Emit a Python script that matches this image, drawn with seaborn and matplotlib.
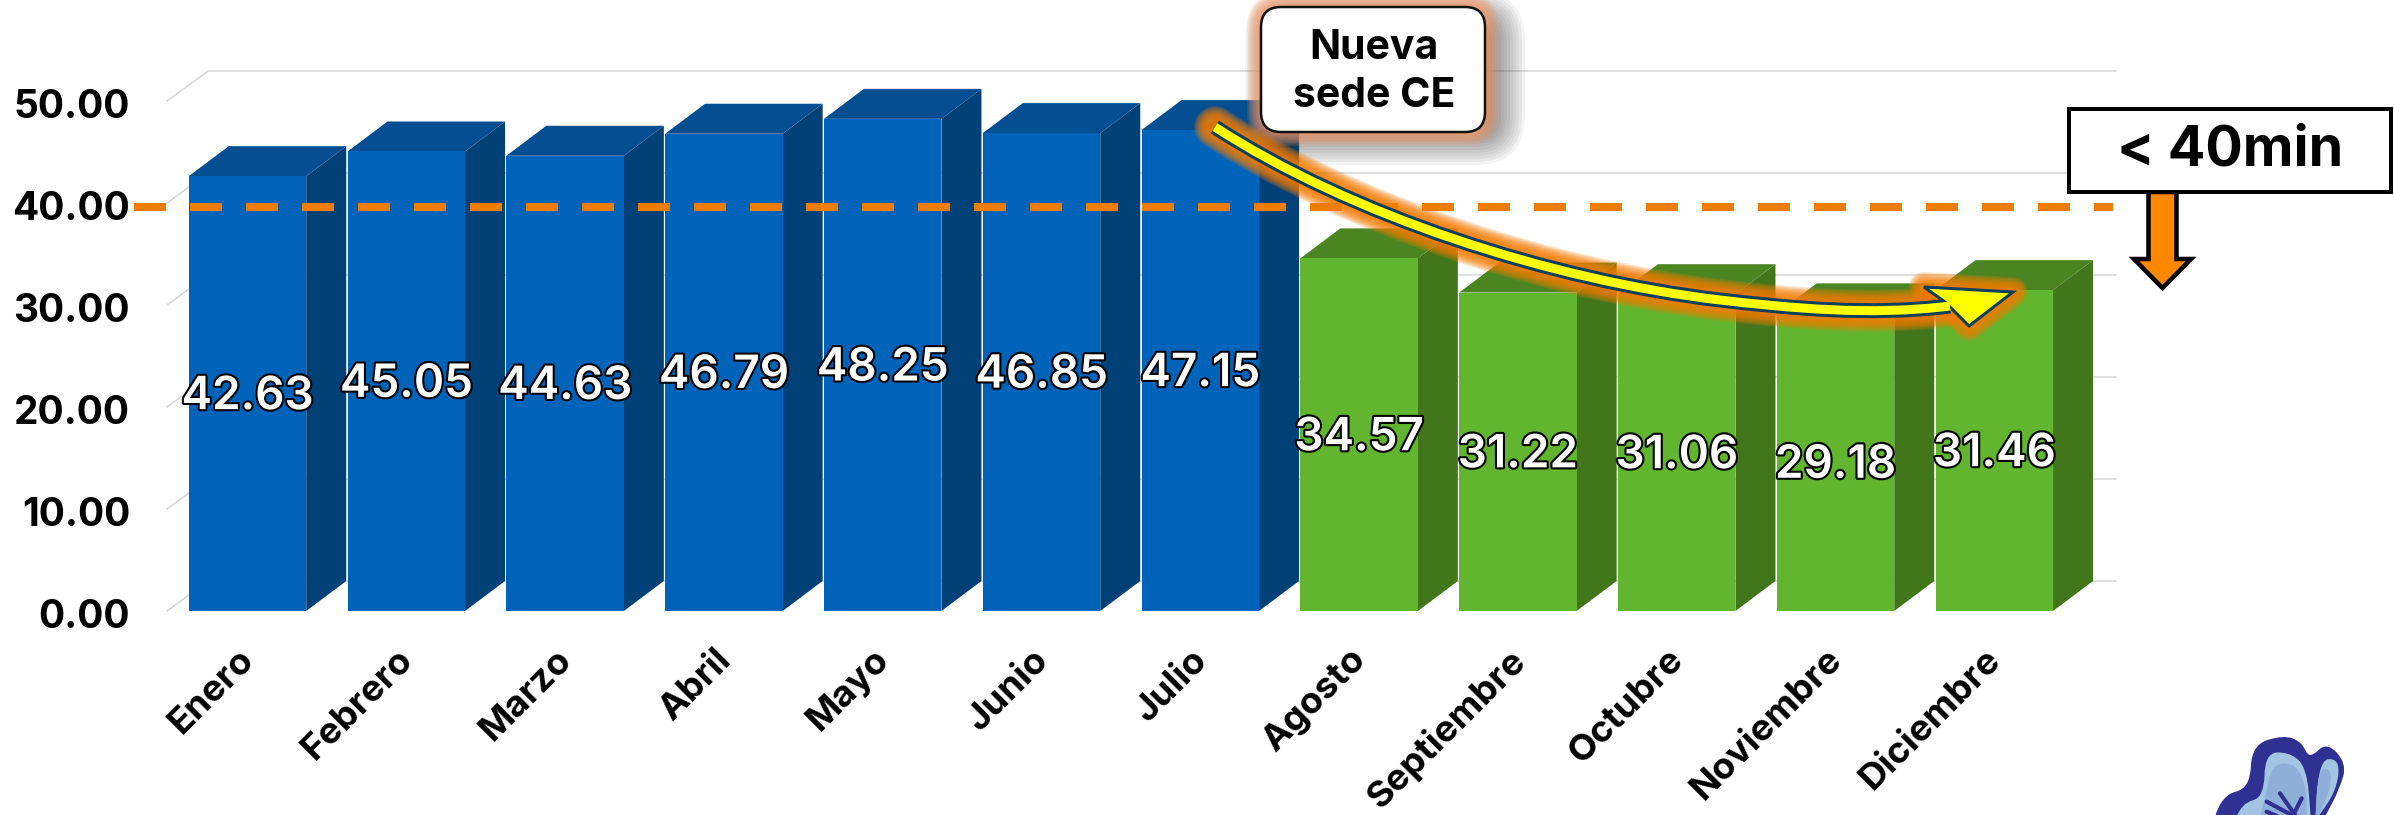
import matplotlib
matplotlib.use("Agg")
import matplotlib.pyplot as plt
import matplotlib.patheffects as pe
import seaborn as sns
from matplotlib.patches import FancyBboxPatch, PathPatch, Polygon, Rectangle
from matplotlib.path import Path
from matplotlib.transforms import Affine2D, ScaledTranslation

# ---------------------------
# Data
# ---------------------------
meses = ["Enero", "Febrero", "Marzo", "Abril", "Mayo", "Junio", "Julio",
         "Agosto", "Septiembre", "Octubre", "Noviembre", "Diciembre"]
tiempos = [42.63, 45.05, 44.63, 46.79, 48.25, 46.85, 47.15,
           34.57, 31.22, 31.06, 29.18, 31.46]
sede = ["Anterior"] * 7 + ["Nueva"] * 5
y_ticks = [0, 10, 20, 30, 40, 50]
limite = 39.6

W, H = 2394, 815
FONT = "Inter"
colores = {"Anterior": "#0063BA", "Nueva": "#62B52E"}
lado = {"Anterior": "#024078", "Nueva": "#41761B"}
techo = {"Anterior": "#044E91", "Nueva": "#4A8522"}

sns.set_theme(style="white")
plt.rcParams["font.family"] = [FONT, "DejaVu Sans"]

fig = plt.figure(figsize=(W / 100, H / 100), dpi=100, facecolor="white")
# axes: left/right pixel 167..2116, value 0 at pixel 611, 10.2 px per unit
ax = fig.add_axes([167 / W, 1 - 611 / H, (2116 - 167) / W, 540.6 / H])
px = Affine2D().scale(1 / W, -1 / H).translate(0, 1) + fig.transFigure
PT = 0.72  # points per pixel


def pos_x(p):
    return (p - 247.5) / 158.8


bar_w = 117.5 / 158.8
dx = 40 / 158.8
dy = 30 / 10.2

# ---------------------------
# Bars
# ---------------------------
sns.barplot(x=meses, y=tiempos, hue=sede, palette=colores, dodge=False,
            width=bar_w, saturation=1, legend=False, ax=ax, zorder=3,
            edgecolor="none", linewidth=0)

x_izq, x_der = pos_x(167), pos_x(2116)
for v in y_ticks:
    ax.plot([x_izq, x_izq + dx * 1.03], [v, v + dy], color="#D9D9D9", lw=1.2,
            clip_on=False, zorder=1)
    ax.plot([x_izq + dx * 1.03, x_der], [v + dy, v + dy], color="#D9D9D9", lw=1.2,
            clip_on=False, zorder=1)

for i, (v, s) in enumerate(zip(tiempos, sede)):
    a, b = i - bar_w / 2, i + bar_w / 2
    ax.add_patch(Polygon([(b, 0), (b + dx, dy), (b + dx, v + dy), (b, v)],
                         facecolor=lado[s], edgecolor="none", clip_on=False, zorder=2))
    ax.add_patch(Polygon([(a, v), (a + dx, v + dy), (b + dx, v + dy), (b, v)],
                         facecolor=techo[s], edgecolor="none", clip_on=False, zorder=2))

ax.plot([pos_x(134), pos_x(2113)], [limite, limite], color="#EE7D00", lw=8 * PT,
        linestyle=(0, (4, 3)), dash_capstyle="butt", clip_on=False, zorder=5)

for i, v in enumerate(tiempos):
    ax.text(i, v / 2 - 0.35, f"{v:.2f}", ha="center", va="center", color="white",
            fontsize=33, fontweight="semibold", zorder=6,
            path_effects=[pe.withStroke(linewidth=3, foreground="black")])

# ---------------------------
# Axes
# ---------------------------
ax.set_xlim(x_izq, x_der)
ax.set_ylim(0, 53)
ax.set_yticks(y_ticks)
ax.set_yticklabels([f"{v:.2f}" for v in y_ticks], fontsize=28, fontweight="bold", color="black")
ax.tick_params(axis="y", length=0, pad=37 * PT)
ax.tick_params(axis="x", length=0, pad=32 * PT)
ax.set_xticks(range(len(meses)))
ax.set_xticklabels(meses, rotation=45, ha="right", va="top", rotation_mode="anchor",
                   fontsize=26.5, fontweight="bold", color="black")
desplaza = ScaledTranslation(-10 * PT / 72, 0, fig.dpi_scale_trans)
for lab in ax.get_xticklabels():
    lab.set_transform(lab.get_transform() + desplaza)
baja = ScaledTranslation(0, -2.5 * PT / 72, fig.dpi_scale_trans)
for lab in ax.get_yticklabels():
    lab.set_transform(lab.get_transform() + baja)
ax.patch.set_visible(False)
sns.despine(ax=ax, left=True, bottom=True)

# ---------------------------
# Callout box with shadow and glow
# ---------------------------
def caja(x0, y0, x1, y1, r, **kw):
    p = FancyBboxPatch((x0 + r, y0 + r), x1 - x0 - 2 * r, y1 - y0 - 2 * r,
                       boxstyle=f"round,pad={r},rounding_size={r}",
                       transform=px, clip_on=False, **kw)
    fig.add_artist(p)
    return p


for k in range(20):
    g = 30 - 3 * k
    caja(1275 - g, 21 - g, 1495 + g, 135 + g, max(6, 20 + g), facecolor="#333333",
         edgecolor="none", alpha=0.06, zorder=7)
for k in range(9):
    g = 14 - 1.5 * k
    caja(1261 - g, 7 - g, 1485 + g, 132 + g, 20 + g, facecolor="#F79A68",
         edgecolor="none", alpha=0.14, zorder=7)
caja(1261, 7, 1485, 132, 20, facecolor="white", edgecolor="#111111", lw=2.5 * PT, zorder=8)
fig.text(1374, 48, "Nueva", transform=px, ha="center", va="center", fontsize=29.5,
         fontweight="bold", color="black", zorder=9)
fig.text(1374, 96, "sede CE", transform=px, ha="center", va="center", fontsize=29.5,
         fontweight="bold", color="black", zorder=9)

# ---------------------------
# Curved arrow
# ---------------------------
curva = Path([(1215, 127), (1350, 215), (1550, 280), (1720, 300),
              (1790, 308), (1870, 316), (1950, 306)],
             [Path.MOVETO, Path.CURVE4, Path.CURVE4, Path.CURVE4,
              Path.CURVE4, Path.CURVE4, Path.CURVE4])
punta = [(1924, 287), (2013, 292), (1969, 326), (1950, 306)]

for k in range(10):
    ancho = 42 - 2.6 * k
    fig.add_artist(PathPatch(curva, facecolor="none", edgecolor="#F57C00", lw=ancho * PT,
                             alpha=0.2, capstyle="round", transform=px, zorder=10))
    fig.add_artist(Polygon(punta, facecolor="#F57C00", edgecolor="#F57C00", lw=(ancho - 12) * PT,
                           alpha=0.2, joinstyle="round", transform=px, zorder=10))
fig.add_artist(PathPatch(curva, facecolor="none", edgecolor="#0C3F5E", lw=15 * PT,
                         capstyle="butt", transform=px, zorder=11))
fig.add_artist(Polygon([(1924, 287), (2013, 292), (1969, 326), (1954, 311), (1945, 302)],
                       facecolor="#FFFF00", edgecolor="#0C3F5E", lw=3 * PT,
                       joinstyle="miter", transform=px, zorder=12))
fig.add_artist(PathPatch(curva, facecolor="none", edgecolor="#FFFF00", lw=9 * PT,
                         capstyle="butt", transform=px, zorder=13))

# ---------------------------
# Target box and down arrow
# ---------------------------
fig.add_artist(Polygon([(2148.5, 192), (2176.5, 192), (2176.5, 259), (2191, 259), (2162.5, 288),
                        (2134, 259), (2148.5, 259)],
                       facecolor="#FF8800", edgecolor="black", lw=4.5 * PT,
                       joinstyle="miter", transform=px, zorder=7))
fig.add_artist(Rectangle((2069, 109), 322, 83, facecolor="white", edgecolor="black",
                         lw=4 * PT, transform=px, zorder=8))
fig.text(2230, 150, "< 40min", transform=px, ha="center", va="center", fontsize=40,
         fontweight="bold", color="black", zorder=9)


# ---------------------------
# Logo (cut by the bottom edge)
# ---------------------------
def ala(puntos, color, z):
    pts = [(2150 + a / 3, 700 + b / 3) for a, b in puntos]
    verts = [pts[0]]
    codes = [Path.MOVETO]
    for c, n in zip(pts[1:-1], pts[2:]):
        verts += [c, ((c[0] + n[0]) / 2, (c[1] + n[1]) / 2)]
        codes += [Path.CURVE3, Path.CURVE3]
    verts += [pts[-1], pts[0]]
    codes += [Path.LINETO, Path.CLOSEPOLY]
    fig.add_artist(PathPatch(Path(verts, codes), facecolor=color, edgecolor="none",
                             transform=px, zorder=z))


ala([(195, 350), (215, 285), (300, 265), (305, 135), (400, 105), (455, 125), (478, 178),
     (530, 125), (590, 190), (570, 265), (525, 350)], "#2E3192", 4)
ala([(260, 350), (275, 310), (342, 292), (345, 160), (415, 155), (470, 200), (482, 350)], "#A3C4E3", 5)
ala([(330, 350), (345, 300), (365, 190), (440, 190), (470, 270), (470, 350)], "#8FAFD8", 5)
ala([(497, 350), (500, 180), (570, 175), (560, 270), (505, 350)], "#A3C4E3", 5)
ala([(497, 350), (500, 210), (545, 205), (540, 270), (505, 350)], "#8FAFD8", 5)
for xa, ya, xb, yb in [(390, 280, 435, 345), (455, 295, 430, 345), (350, 305, 425, 345), (350, 335, 385, 350)]:
    fig.add_artist(plt.Line2D([2150 + xa / 3, 2150 + xb / 3], [700 + ya / 3, 700 + yb / 3],
                              color="#2E3192", lw=3, transform=px, zorder=6))

fig.savefig("out.png", dpi=100)
